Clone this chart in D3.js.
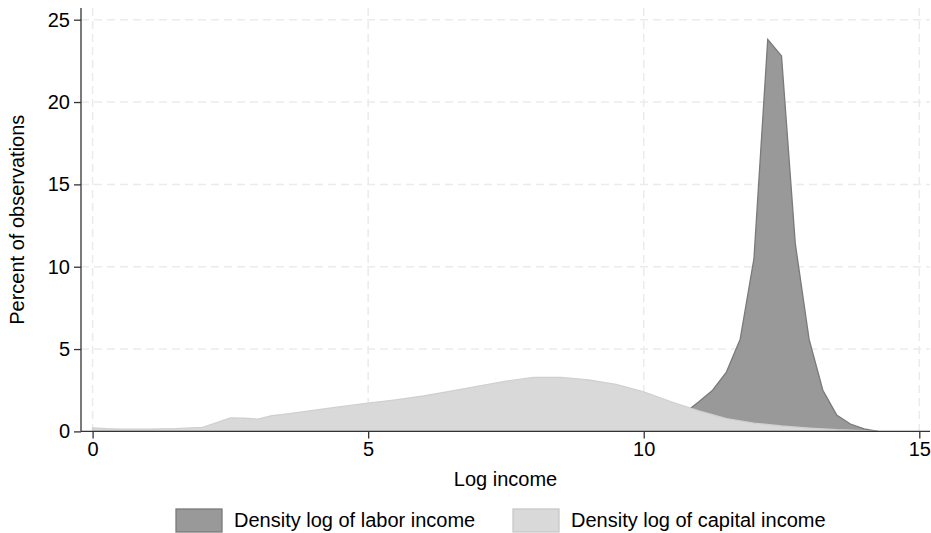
<!DOCTYPE html>
<html lang="en">
<head>
    <meta charset="UTF-8">
    <script src="https://d3js.org/d3.v7.min.js"></script>
    <style>
        body { margin: 0; background: #fff; font-family: "Liberation Sans", Arial, sans-serif; }
        .tick text { font-size: 20px; fill: #000; font-family: "Liberation Sans", Arial, sans-serif; }
        .tick line { stroke: #333; stroke-width: 1.3px; }
        .grid { stroke: #ebebeb; stroke-width: 1.5px; stroke-dasharray: 8,5; }
        .label { font-size: 20px; fill: #000; }
    </style>
</head>
<body>
    <svg id="chart" width="931" height="533"></svg>

    <script>
        // Labor income density (dark)
        const laborLogIncome = [9.5, 10.0, 10.5, 10.85, 11.0, 11.25, 11.5, 11.75, 12.0, 12.25, 12.5, 12.75, 13.0, 13.25, 13.5, 13.75, 14.0, 14.25];
        const laborPercent   = [0.1, 0.3, 0.8, 1.4, 1.8, 2.5, 3.6, 5.6, 10.5, 23.8, 22.8, 11.4, 5.6, 2.5, 1.0, 0.45, 0.15, 0];

        // Capital income density (light)
        const capitalLogIncome = [0, 0.25, 0.5, 1.0, 1.5, 2.0, 2.5, 2.75, 3.0, 3.25, 3.5, 4.0, 4.5, 5.0, 5.5, 6.0, 6.5, 7.0, 7.5, 8.0, 8.5, 9.0, 9.5, 10.0, 10.5, 11.0, 11.5, 12.0, 12.5, 13.0, 13.5, 14.0, 14.25];
        const capitalPercent   = [0.22, 0.17, 0.14, 0.14, 0.17, 0.25, 0.82, 0.8, 0.75, 0.95, 1.05, 1.28, 1.5, 1.72, 1.92, 2.15, 2.45, 2.75, 3.05, 3.28, 3.28, 3.12, 2.85, 2.4, 1.8, 1.25, 0.78, 0.5, 0.33, 0.2, 0.1, 0.04, 0];

        const xTicks = [0, 5, 10, 15];
        const yTicks = [0, 5, 10, 15, 20, 25];
        const legendLabels = ["Density log of labor income", "Density log of capital income"];

        const region = { left: 81, right: 930, top: 8, bottom: 431.4 };

        const svg = d3.select("#chart");

        const x = d3.scaleLinear().domain([0, 15]).range([92.6, 919.3]);
        const y = d3.scaleLinear().domain([0, 25]).range([431.4, 19.7]);

        // grid
        svg.append("g").selectAll("line").data(yTicks.slice(1)).enter().append("line")
            .attr("class", "grid")
            .attr("x1", region.left).attr("x2", region.right)
            .attr("y1", d => y(d)).attr("y2", d => y(d));
        svg.append("g").selectAll("line").data(xTicks).enter().append("line")
            .attr("class", "grid")
            .attr("x1", d => x(d)).attr("x2", d => x(d))
            .attr("y1", region.top).attr("y2", region.bottom);

        const area = d3.area()
            .x(d => x(d[0]))
            .y0(y(0))
            .y1(d => y(d[1]));

        const labor = laborLogIncome.map((v, i) => [v, laborPercent[i]]);
        const capital = capitalLogIncome.map((v, i) => [v, capitalPercent[i]]);

        svg.append("path").datum(labor)
            .attr("d", area)
            .attr("fill", "#999999")
            .attr("stroke", "#7a7a7a")
            .attr("stroke-width", 1.3);

        svg.append("path").datum(capital)
            .attr("d", area)
            .attr("fill", "#d9d9d9")
            .attr("stroke", "#d0d0d0")
            .attr("stroke-width", 1.3);

        // axes
        const yAxis = svg.append("g")
            .attr("transform", `translate(${region.left},0)`)
            .call(d3.axisLeft(y).tickValues(yTicks).tickSize(7).tickPadding(4));
        yAxis.select(".domain").remove();

        const xAxis = svg.append("g")
            .attr("transform", `translate(0,${region.bottom})`)
            .call(d3.axisBottom(x).tickValues(xTicks).tickSize(7).tickPadding(3));
        xAxis.select(".domain").remove();

        svg.append("line")
            .attr("x1", region.left).attr("x2", region.left)
            .attr("y1", region.top).attr("y2", region.bottom)
            .attr("stroke", "#333").attr("stroke-width", 1.3);
        svg.append("line")
            .attr("x1", region.left).attr("x2", region.right)
            .attr("y1", region.bottom).attr("y2", region.bottom)
            .attr("stroke", "#333").attr("stroke-width", 1.3);

        // titles
        svg.append("text").attr("class", "label")
            .attr("x", (region.left + region.right) / 2).attr("y", 486)
            .attr("text-anchor", "middle")
            .text("Log income");

        svg.append("text").attr("class", "label")
            .attr("transform", `translate(24,${(region.top + region.bottom) / 2}) rotate(-90)`)
            .attr("text-anchor", "middle")
            .text("Percent of observations");

        // legend
        const legendFill = ["#999999", "#d9d9d9"];
        const legendStroke = ["#7a7a7a", "#c8c8c8"];
        const legendX = [176, 513];
        const legend = svg.append("g").selectAll("g").data(legendLabels).enter().append("g")
            .attr("transform", (d, i) => `translate(${legendX[i]},509)`);
        legend.append("rect")
            .attr("width", 46).attr("height", 23)
            .attr("fill", (d, i) => legendFill[i])
            .attr("stroke", (d, i) => legendStroke[i])
            .attr("stroke-width", 1.3);
        legend.append("text").attr("class", "label")
            .attr("x", 58).attr("y", 18)
            .text(d => d);
    </script>
</body>
</html>
